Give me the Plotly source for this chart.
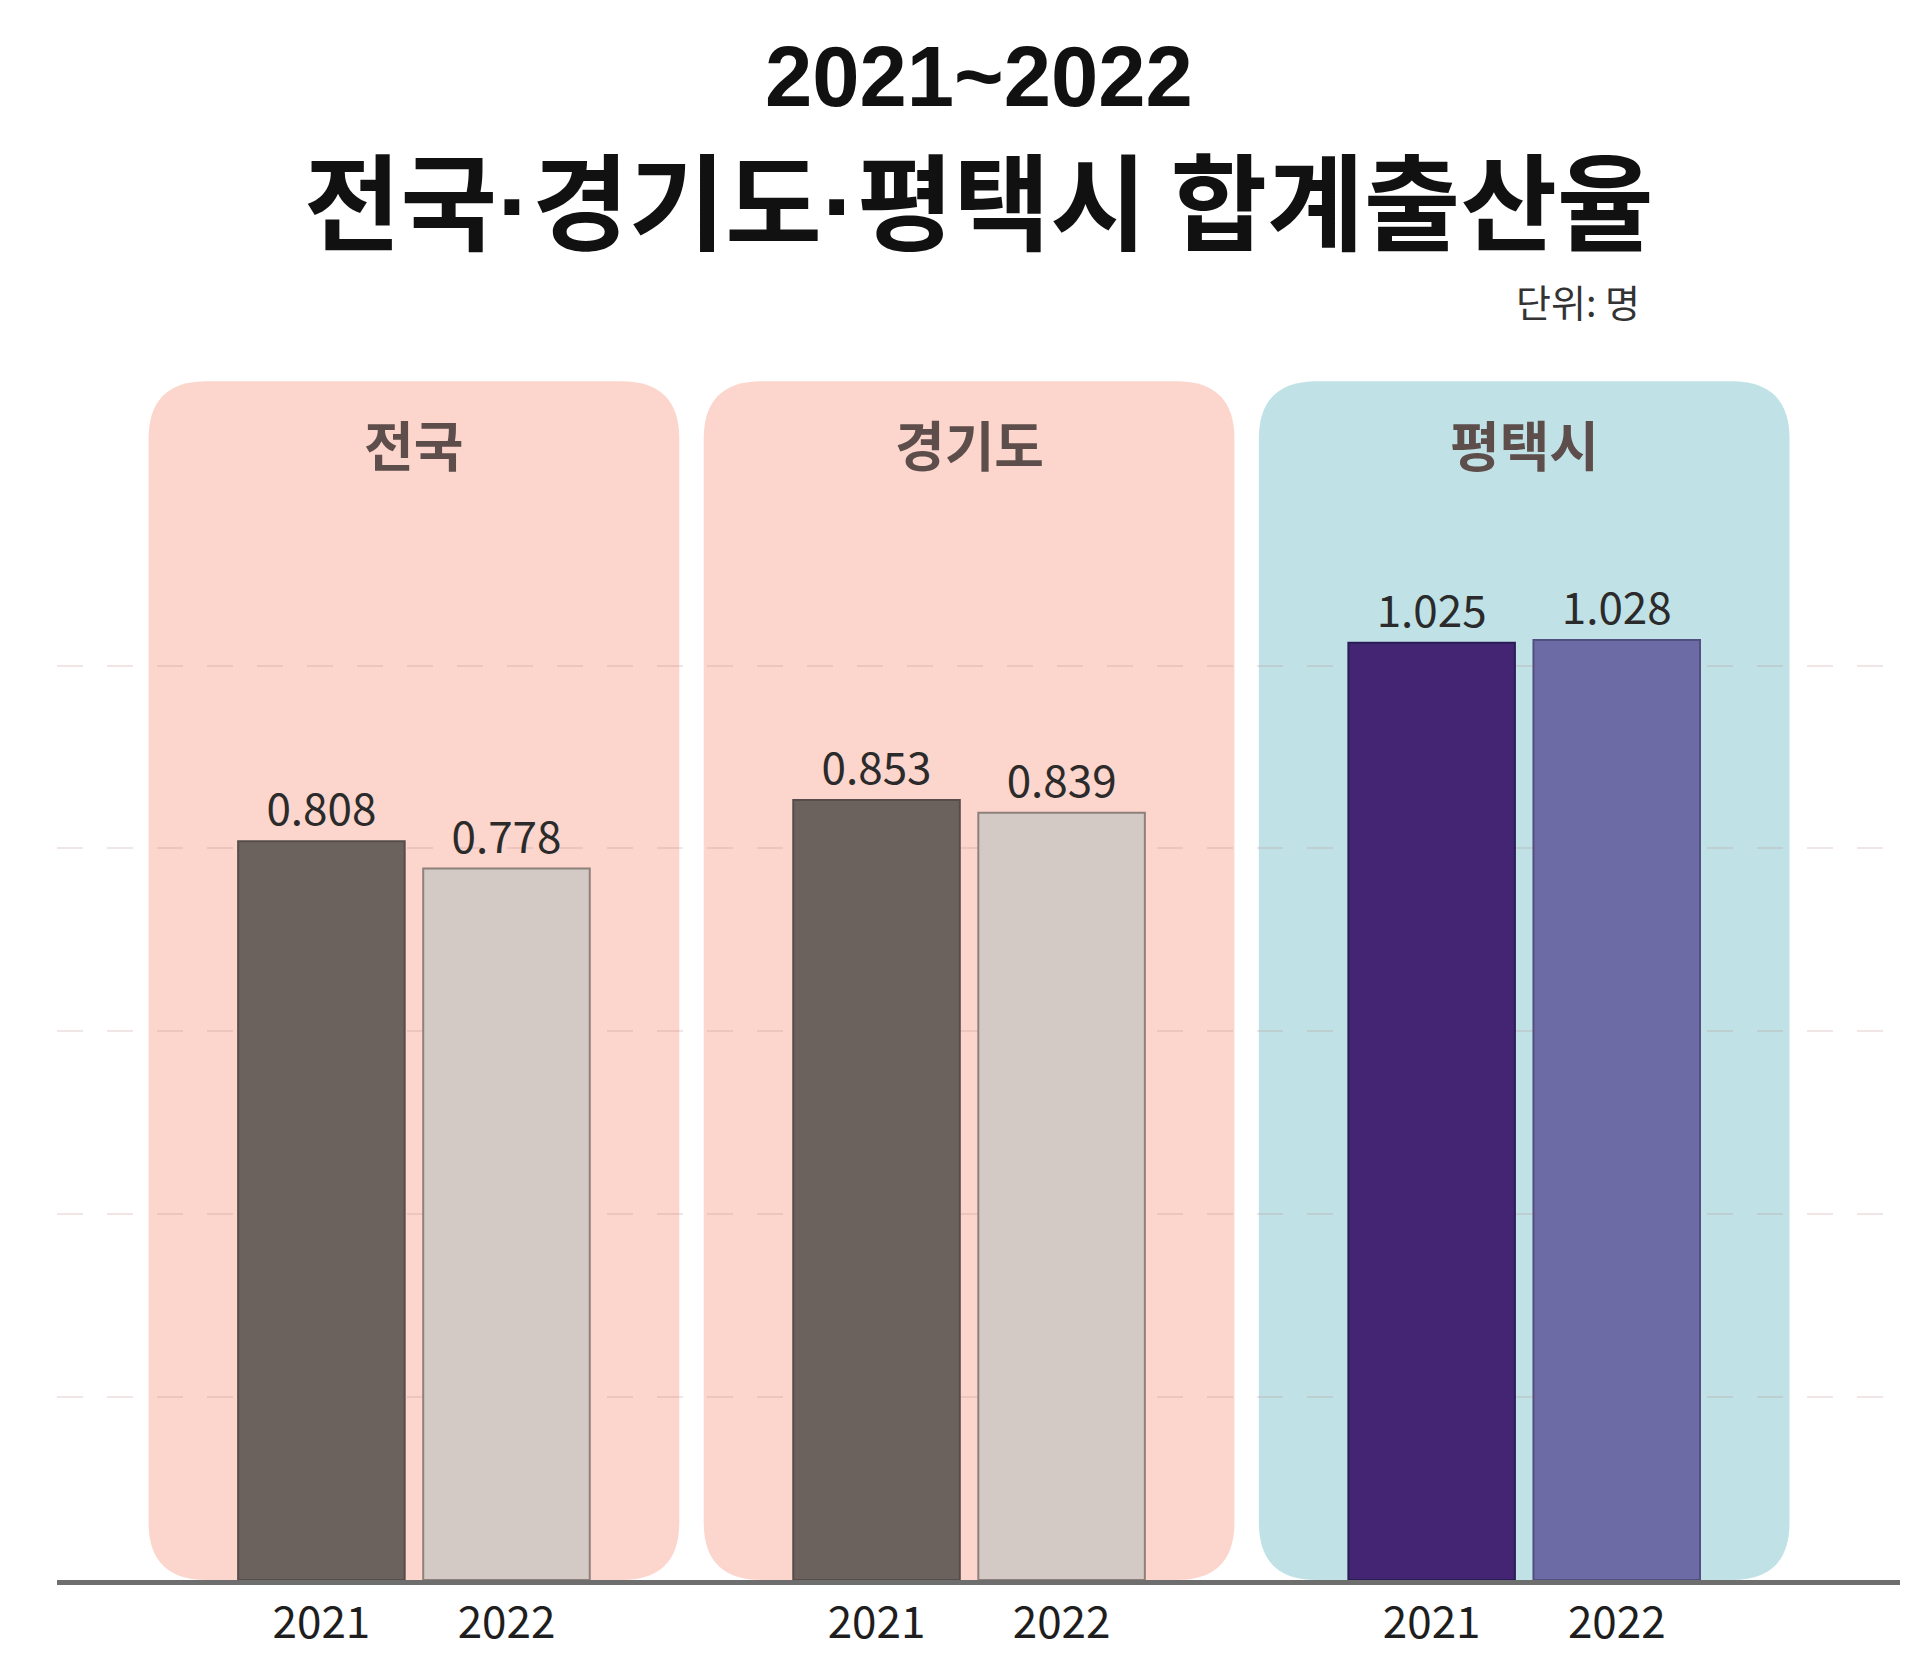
import plotly.graph_objects as go

regions = ["전국", "경기도", "평택시"]
years = ["2021", "2022"]
tfr_2021 = [0.808, 0.853, 1.025]
tfr_2022 = [0.778, 0.839, 1.028]

colors_2021 = ["#6b625e", "#6b625e", "#432574"]
colors_2022 = ["#d3c9c5", "#d3c9c5", "#6c6ba6"]
edges_2021 = ["#564d4a", "#564d4a", "#2a1d55"]
edges_2022 = ["#8e807c", "#8e807c", "#525080"]
panel_colors = ["#fcd5cc", "#fcd5cc", "#c0e2e7"]

FONT = "Noto Sans CJK KR"

# layout in pixels
W, H = 1920, 1655
ml, mr, mt, mb = 49, 28, 365, 72
xr = [-0.643, 2.677]
yr = [0, 1.32]
px_x = (W - ml - mr) / (xr[1] - xr[0])
px_y = (H - mt - mb) / (yr[1] - yr[0])

off = 0.1667
bw = 0.3

fig = go.Figure()

for vals, cols, edges, sign, yr_lbl in [
    (tfr_2021, colors_2021, edges_2021, -1, years[0]),
    (tfr_2022, colors_2022, edges_2022, 1, years[1]),
]:
    fig.add_trace(go.Bar(
        x=[i + sign * off for i in range(len(regions))],
        y=vals,
        width=bw,
        name=yr_lbl,
        marker=dict(color=cols, line=dict(color=edges, width=2)),
        text=[f"{v:.3f}" for v in vals],
        textposition="outside",
        constraintext="none",
        textfont=dict(family=FONT, size=44, color="#2b2b2b"),
        cliponaxis=False,
        showlegend=False,
    ))


def rounded_rect(x0, x1, y0, y1, r):
    rx = r / px_x
    ry = r / px_y
    return (f"M {x0 + rx},{y0} L {x1 - rx},{y0} Q {x1},{y0} {x1},{y0 + ry} "
            f"L {x1},{y1 - ry} Q {x1},{y1} {x1 - rx},{y1} "
            f"L {x0 + rx},{y1} Q {x0},{y1} {x0},{y1 - ry} "
            f"L {x0},{y0 + ry} Q {x0},{y0} {x0 + rx},{y0} Z")


half = 0.478
panel_top = 1.311
for i, name in enumerate(regions):
    fig.add_shape(type="path", xref="x", yref="y",
                  path=rounded_rect(i - half, i + half, 0, panel_top, 58),
                  fillcolor=panel_colors[i], line=dict(width=0), layer="below")
    fig.add_annotation(x=i, y=1.243, xref="x", yref="y", text=name, showarrow=False,
                       font=dict(family=FONT, size=54, color="#5d4e4c", weight="bold"),
                       yanchor="middle")

tickvals = []
ticktext = []
for i in range(len(regions)):
    tickvals += [i - off, i + off]
    ticktext += years


def paper_y(py):
    return (H - mb - py) / (H - mt - mb)


def paper_x(px):
    return (px - ml) / (W - ml - mr)


fig.add_annotation(x=paper_x(971), y=paper_y(116), xref="paper", yref="paper",
                   text="2021~2022", showarrow=False, yanchor="bottom",
                   font=dict(family="Liberation Sans", size=85, color="#111111", weight="bold"))
dot = "<span style='font-family:Liberation Sans'>·</span>"
fig.add_annotation(x=paper_x(971), y=paper_y(108), xref="paper", yref="paper",
                   text="전국" + dot + "경기도" + dot + "평택시 합계출산율",
                   showarrow=False, yanchor="top",
                   font=dict(family=FONT, size=105, color="#111111", weight="bold"))
fig.add_annotation(x=paper_x(1634), y=paper_y(262), xref="paper", yref="paper",
                   text="단위: 명", showarrow=False, xanchor="right", yanchor="top",
                   font=dict(family=FONT, size=38, color="#333333"))

fig.update_layout(
    width=W, height=H,
    margin=dict(l=ml, r=mr, t=mt, b=mb),
    paper_bgcolor="white",
    plot_bgcolor="rgba(0,0,0,0)",
    showlegend=False,
    xaxis=dict(range=xr, tickvals=tickvals, ticktext=ticktext, showgrid=False,
               zeroline=False, showline=True, linecolor="#6e6e6e", linewidth=5,
               ticks="", tickfont=dict(family=FONT, size=44, color="#1e1e1e"),
               fixedrange=True),
    yaxis=dict(range=yr, tickvals=[0.2, 0.4, 0.6, 0.8, 1.0], showticklabels=False,
               showgrid=True, gridcolor="rgba(180,140,135,0.22)", gridwidth=2,
               griddash="26px,24px", zeroline=False, fixedrange=True),
)

fig.write_html("out.html")
